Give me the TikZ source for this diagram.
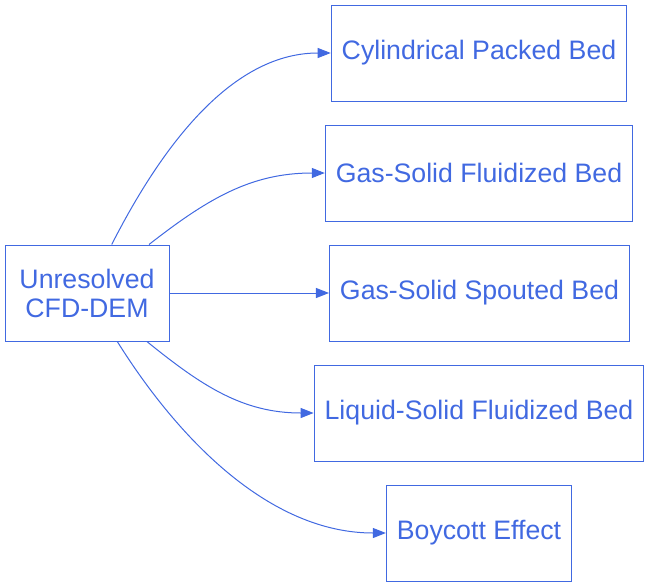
\documentclass[tikz,border=0pt]{standalone}
\usepackage{fontspec}
\setmainfont{Liberation Sans}
\usepackage{xcolor}
\usepackage{tikz}
\usetikzlibrary{calc, arrows.meta, positioning}

\definecolor{royal}{HTML}{4169E1}

\begin{document}
\begin{tikzpicture}[auto, x=1pt, y=-1pt]
		\tikzstyle{box} = [draw=royal, line width=1pt, rectangle, text=royal, minimum height=96pt, inner xsep=10.5pt, font=\fontsize{26.7pt}{29pt}\selectfont]
		\tikzstyle{arrow} = [color=royal, line width=1pt, -{Triangle[length=13pt, width=10pt]}]
		
		\useasboundingbox (0, 0) rectangle (651, 587);
		
		\node[box, align=center, minimum width=164pt] 	at (87, 293) 	(cfd) 	{Unresolved\\CFD-DEM};
		\node[box] 	at (479, 53)		(cyl) 	{Cylindrical Packed Bed};
		\node[box] 	at (479, 173)		(gsf) 	{Gas-Solid Fluidized Bed};
		\node[box] 	at (479.5, 293)		(gss) 	{Gas-Solid Spouted Bed};
		\node[box] 	at (479, 413)		(lsf) 	{Liquid-Solid Fluidized Bed};
		\node[box] 	at (479, 533)		(boy) 	{Boycott Effect};
		
		\path[arrow]
		(cfd) 	edge 	[out=63, in=180, looseness=0.9]		(cyl)
		(cfd) 	edge 	[out=38, in=180]		(gsf)
		(cfd) 	edge 					(gss)
		(cfd) 	edge 	[out=-39, in=180]		(lsf)
		(cfd)	edge 	[out=-58, in=180, looseness=0.9]	(boy);
	\end{tikzpicture}
\end{document}
